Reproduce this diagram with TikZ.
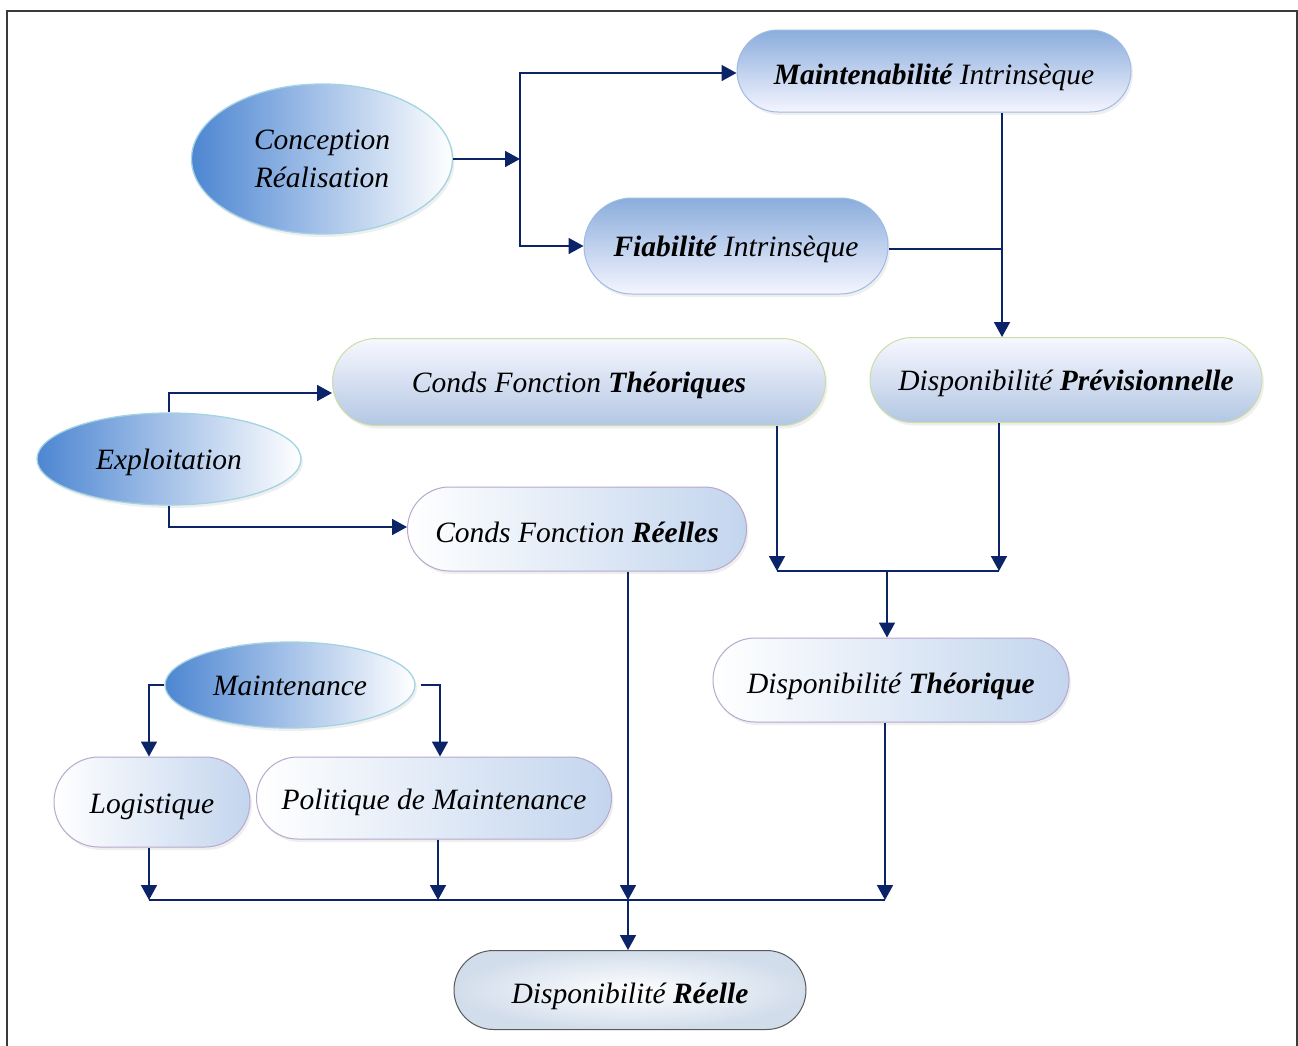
\documentclass[tikz,border=0pt]{standalone}
\usepackage{fontspec}
\setmainfont{Liberation Serif}
\usetikzlibrary{shapes.geometric,shapes.misc,arrows.meta,shadows}

\definecolor{navy}{HTML}{0B2468}
\definecolor{ovalblue}{HTML}{4D86D2}
\definecolor{ovalrim}{HTML}{A3D3E3}
\definecolor{capblue}{HTML}{8AADDC}
\definecolor{caprim}{HTML}{9FBBE2}
\definecolor{softblue}{HTML}{B3C7E3}
\definecolor{greenrim}{HTML}{CCDDA6}
\definecolor{lightblue}{HTML}{C3D5EE}
\definecolor{violetrim}{HTML}{B7A9CD}
\definecolor{greyblue}{HTML}{D2DDEB}
\definecolor{framegrey}{HTML}{3A3A3A}

\begin{document}
\begin{tikzpicture}[x=1pt,y=-1pt,
  font=\fontsize{29.5}{38}\selectfont\itshape,
  haze/.style={drop shadow={shadow xshift=2pt,shadow yshift=-3pt,opacity=0.12,fill=gray}},
  oval/.style={ellipse,draw=ovalrim,line width=1.3pt,left color=ovalblue,right color=white,
    inner sep=0pt,align=center,haze},
  oneline/.style={text height=23pt,text depth=2pt},
  captext/.style={text height=28pt,text depth=2pt},
  topcap/.style={rounded rectangle,draw=caprim,line width=1pt,top color=capblue,bottom color=white!96!blue,
    inner sep=0pt,captext,haze},
  greencap/.style={rounded rectangle,draw=greenrim,line width=1pt,top color=white!97!blue,bottom color=softblue,
    inner sep=0pt,captext,text height=22pt,haze},
  violetcap/.style={rounded rectangle,draw=violetrim,line width=1pt,left color=white,right color=lightblue,
    inner sep=0pt,captext,haze},
  greycap/.style={rounded rectangle,draw=black!65,line width=1pt,shading=radial,inner color=white,outer color=greyblue,
    inner sep=0pt,captext},
  link/.style={draw=navy,line width=1.8pt},
  arr/.style={link,-{Triangle[length=15pt,width=16pt]}}
]
\useasboundingbox (0,0) rectangle (1298,1045);
\fill[white] (0,0) rectangle (1298,1045);
% page frame
\draw[framegrey,line width=1.6pt] (7,1046) -- (7,11) -- (1297,11) -- (1297,1046);

% origin ovals
\node[oval,minimum width=261pt,minimum height=150pt] (concep) at (322,159) {Conception\\Réalisation};
\node[oval,oneline,minimum width=264pt,minimum height=92pt] (expl) at (169,459) {Exploitation};
\node[oval,oneline,minimum width=250pt,minimum height=86pt] (mtn) at (290,685) {Maintenance};

% intrinsic characteristics
\node[topcap,minimum width=394pt,minimum height=82pt] (maint) at (934,71)
  {{\bfseries Maintenabilité} Intrinsèque};
\node[topcap,text height=22pt,minimum width=304pt,minimum height=96pt] (fiab) at (736,246)
  {{\bfseries Fiabilité} Intrinsèque};

% operating conditions and availabilities
\node[greencap,minimum width=392pt,minimum height=85pt] (previs) at (1066,380)
  {Disponibilité {\bfseries Prévisionnelle}};
\node[greencap,minimum width=493pt,minimum height=87pt] (cth) at (579,382)
  {Conds Fonction {\bfseries Théoriques}};
\node[violetcap,minimum width=339pt,minimum height=84pt] (creel) at (577,529)
  {Conds Fonction {\bfseries Réelles}};
\node[violetcap,minimum width=356pt,minimum height=84pt] (dth) at (891,680)
  {Disponibilité {\bfseries Théorique}};
\node[violetcap,text height=25pt,minimum width=196pt,minimum height=90pt] (logi) at (152,802) {Logistique};
\node[violetcap,text height=25pt,minimum width=355pt,minimum height=82pt] (polit) at (434,798) {Politique de Maintenance};
\node[greycap,minimum width=352pt,minimum height=79pt] (dreel) at (630,990)
  {Disponibilité {\bfseries Réelle}};

% junction points
\coordinate (jc) at (520,159);
\coordinate (px) at (1002,0);
\coordinate (jt1) at (777,571);
\coordinate (jt2) at (999,571);
\coordinate (jt3) at (887,571);
\coordinate (b1) at (149,900);
\coordinate (b2) at (438,900);
\coordinate (b3) at (628,900);
\coordinate (b4) at (885,900);

% design branch
\draw[arr] (concep.east) -- (jc);
\draw[arr] (jc) |- ([yshift=-2pt]maint.west);
\draw[arr] (jc) |- (fiab.west);
\draw[arr] (maint.south -| px) -- (previs.north -| px);
\draw[link] ([yshift=-3pt]fiab.east) -- ([yshift=-3pt]fiab.east -| px);

% operating branch
\draw[arr] (expl.north) |- ([yshift=-11pt]cth.west);
\draw[arr] (expl.south) |- ([yshift=2pt]creel.west);

% theoretical availability
\draw[arr] (cth.south -| jt1) -- (jt1);
\draw[arr] (previs.south -| jt2) -- (jt2);
\draw[link] (jt1) -- (jt2);
\draw[arr] (jt3) -- (dth.north -| jt3);

% maintenance branch
\draw[arr] (mtn.west) -| ([xshift=-3pt]logi.north);
\draw[arr] ([xshift=5pt]mtn.east) -| ([xshift=6pt]polit.north);

% real availability
\draw[arr] (logi.south -| b1) -- (b1);
\draw[arr] (polit.south -| b2) -- (b2);
\draw[arr] (creel.south -| b3) -- (b3);
\draw[arr] (dth.south -| b4) -- (b4);
\draw[link] (b1) -- (b4);
\draw[arr] (b3) -- (dreel.north -| b3);
\end{tikzpicture}
\end{document}
